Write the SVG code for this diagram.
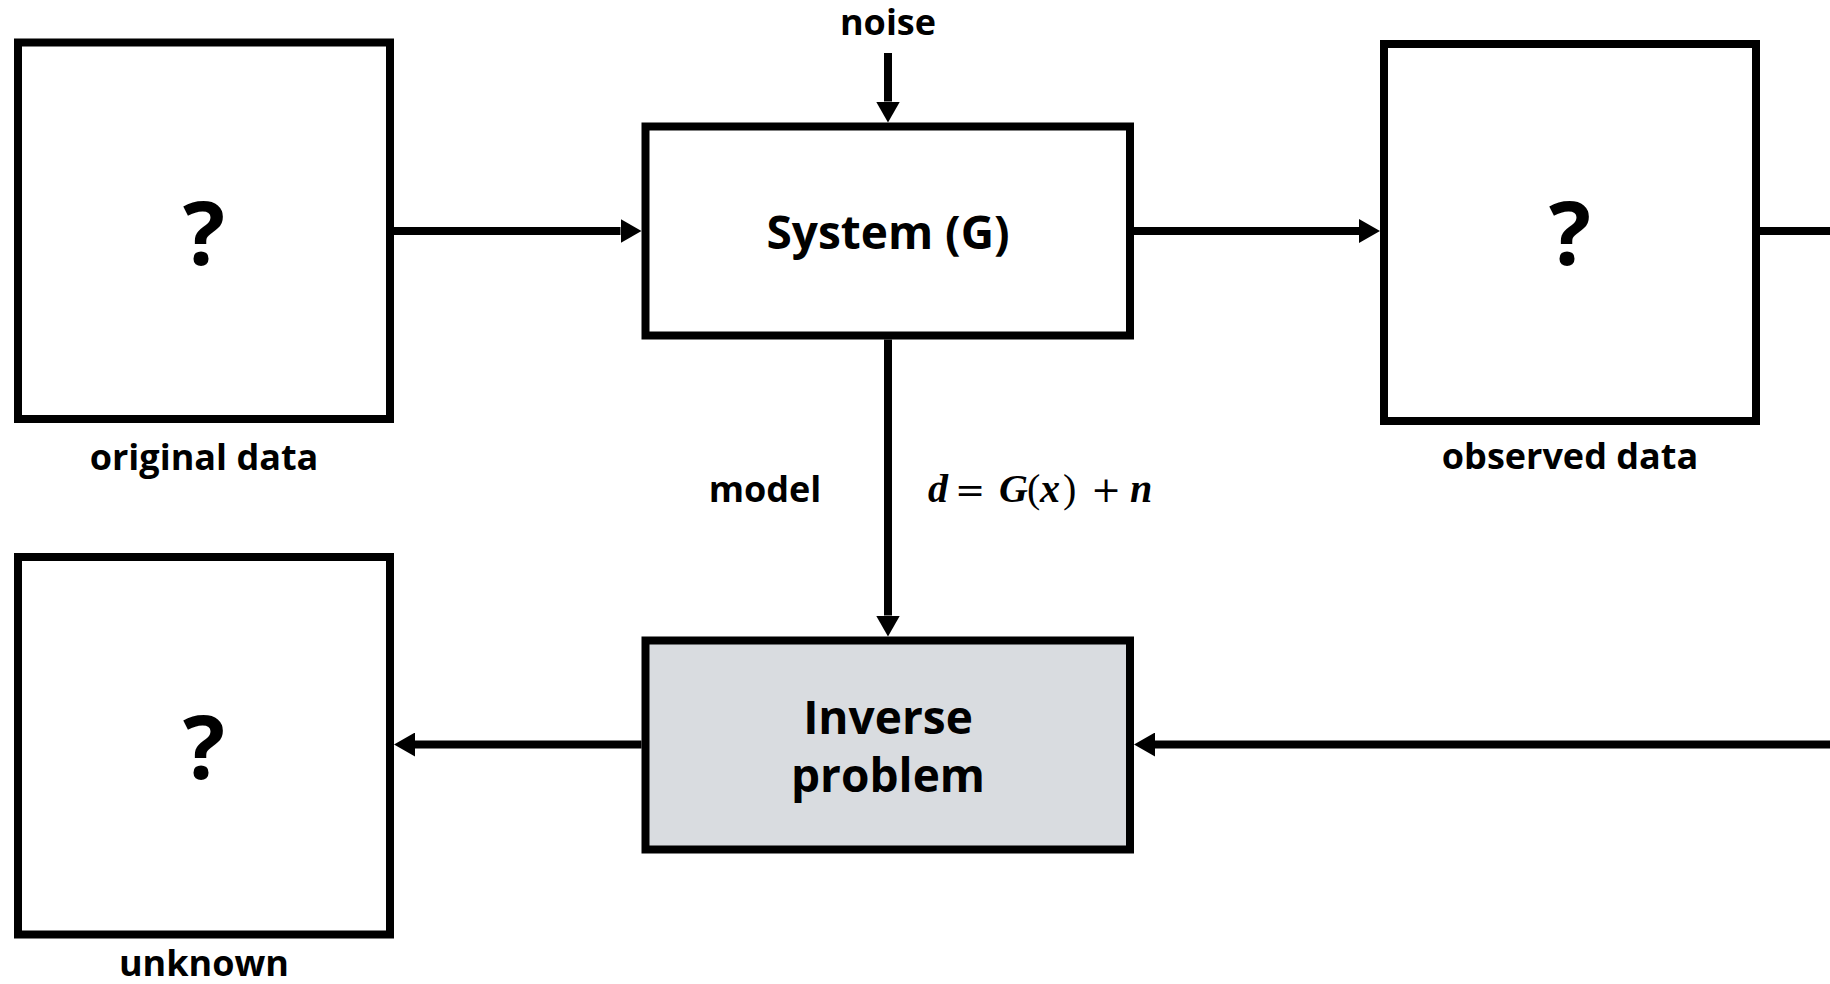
<svg xmlns="http://www.w3.org/2000/svg" width="1830" height="984" viewBox="0 0 1830 984">
<style>
.box{fill:#ffffff;stroke:#000000;stroke-width:8}
.gray{fill:#d9dce0;stroke:#000000;stroke-width:8}
.conn{stroke:#000000;stroke-width:8;fill:none}
.t{font-family:"Open Sans","Noto Sans","Liberation Sans",sans-serif;font-weight:bold;fill:#000000;text-anchor:middle}
.lbl{font-size:36px}
.big{font-size:46px}
.q{font-size:88px}
.m{font-family:"Liberation Serif","DejaVu Serif",serif;font-size:40px;fill:#000000}
.mi{font-style:italic;font-weight:bold}
.op{font-family:"DejaVu Serif",serif;font-size:36px}
</style>
<defs>
<marker id="ah" markerUnits="userSpaceOnUse" markerWidth="22" markerHeight="24" refX="0" refY="12" orient="auto">
<path d="M0,0 L21,12 L0,24 Z" fill="#000000"/>
</marker>
</defs>
<rect width="1830" height="984" fill="#ffffff"/>
<g id="connectors">
<line class="conn" x1="394" y1="231" x2="620.5" y2="231" marker-end="url(#ah)"/>
<line class="conn" x1="1134" y1="231" x2="1359" y2="231" marker-end="url(#ah)"/>
<line class="conn" x1="1760" y1="231" x2="1830" y2="231"/>
<line class="conn" x1="888" y1="53" x2="888" y2="101.5" marker-end="url(#ah)"/>
<line class="conn" x1="888" y1="339.5" x2="888" y2="615.5" marker-end="url(#ah)"/>
<line class="conn" x1="1830" y1="744.5" x2="1155" y2="744.5" marker-end="url(#ah)"/>
<line class="conn" x1="641.5" y1="744.5" x2="415" y2="744.5" marker-end="url(#ah)"/>
</g>
<g id="noise">
<text class="t lbl" x="888" y="35">noise</text>
</g>
<g id="original">
<rect class="box" x="18" y="42.5" width="372" height="376.5"/>
<text class="t q" x="204" y="265">?</text>
<text class="t lbl" x="204" y="470">original data</text>
</g>
<g id="system">
<rect class="box" x="645.5" y="126.5" width="484.5" height="209"/>
<text class="t big" x="888" y="249">System (G)</text>
</g>
<g id="observed">
<rect class="box" x="1384" y="44" width="372" height="377"/>
<text class="t q" x="1570" y="265">?</text>
<text class="t lbl" x="1570" y="469">observed data</text>
</g>
<g id="model-label">
<text class="t lbl" x="765" y="502">model</text>
<text class="m" y="502"><tspan class="mi" x="928">d</tspan><tspan class="op" x="955">=</tspan><tspan class="mi" x="999">G</tspan><tspan x="1027">(</tspan><tspan class="mi" x="1040">x</tspan><tspan x="1063">)</tspan><tspan class="op" x="1091">+</tspan><tspan class="mi" x="1130">n</tspan></text>
</g>
<g id="inverse">
<rect class="gray" x="645.5" y="640.5" width="484.5" height="209"/>
<text class="t big" x="888" y="734">Inverse</text>
<text class="t big" x="888" y="792">problem</text>
</g>
<g id="unknown">
<rect class="box" x="18" y="557" width="372" height="377.5"/>
<text class="t q" x="204" y="779">?</text>
<text class="t lbl" x="204" y="976">unknown</text>
</g>
</svg>
